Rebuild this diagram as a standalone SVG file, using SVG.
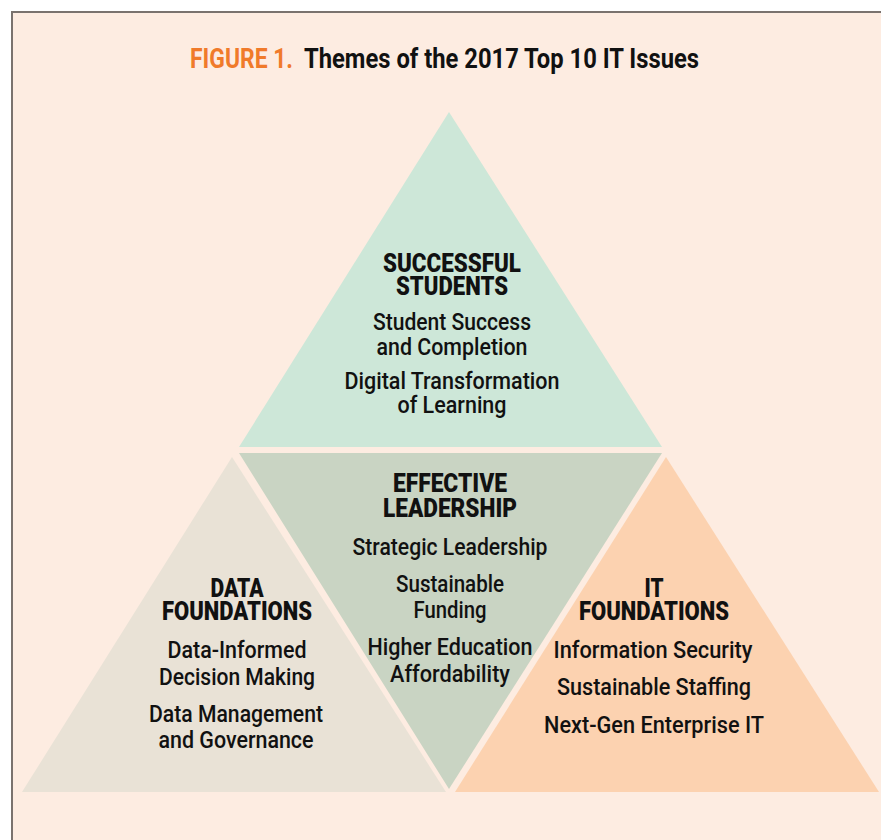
<svg xmlns="http://www.w3.org/2000/svg" width="881" height="840" viewBox="0 0 881 840">
<style>
text{font-family:Roboto,"Liberation Sans",sans-serif;text-anchor:middle;fill:#111}
.h{font-weight:900;font-size:25px}
.b{font-size:24px;font-weight:500}
.t{font-weight:bold;font-size:28px;text-anchor:start}
</style>
<rect x="0" y="0" width="881" height="840" fill="#ffffff"/>
<rect x="12" y="12" width="880" height="840" fill="#fdece1" stroke="#7a726e" stroke-width="2"/>
<text class="t" x="190" y="68" style="fill:#f07a2a" textLength="103" lengthAdjust="spacingAndGlyphs">FIGURE 1.</text>
<text class="t" x="304" y="68" textLength="395" lengthAdjust="spacingAndGlyphs">Themes of the 2017 Top 10 IT Issues</text>
<g id="successful-students">
<polygon points="449,112 662,447 239,447" fill="#cde7d8"/>
<text class="h" x="452" y="272" textLength="138" lengthAdjust="spacingAndGlyphs">SUCCESSFUL</text>
<text class="h" x="452" y="295" textLength="112" lengthAdjust="spacingAndGlyphs">STUDENTS</text>
<text class="b" x="452" y="330" textLength="158" lengthAdjust="spacingAndGlyphs">Student Success</text>
<text class="b" x="452" y="355" textLength="151" lengthAdjust="spacingAndGlyphs">and Completion</text>
<text class="b" x="452" y="389" textLength="215" lengthAdjust="spacingAndGlyphs">Digital Transformation</text>
<text class="b" x="452" y="413" textLength="109" lengthAdjust="spacingAndGlyphs">of Learning</text>
</g>
<g id="effective-leadership">
<polygon points="239,453 662,453 449,789" fill="#c9d4c3"/>
<text class="h" x="450" y="492" textLength="114" lengthAdjust="spacingAndGlyphs">EFFECTIVE</text>
<text class="h" x="450" y="517" textLength="134" lengthAdjust="spacingAndGlyphs">LEADERSHIP</text>
<text class="b" x="450" y="555" textLength="195" lengthAdjust="spacingAndGlyphs">Strategic Leadership</text>
<text class="b" x="450" y="592" textLength="108" lengthAdjust="spacingAndGlyphs">Sustainable</text>
<text class="b" x="450" y="618" textLength="73" lengthAdjust="spacingAndGlyphs">Funding</text>
<text class="b" x="450" y="655" textLength="165" lengthAdjust="spacingAndGlyphs">Higher Education</text>
<text class="b" x="450" y="682" textLength="120" lengthAdjust="spacingAndGlyphs">Affordability</text>
</g>
<g id="data-foundations">
<polygon points="232,457 446,792 22,792" fill="#e9e2d6"/>
<text class="h" x="237" y="597" textLength="53" lengthAdjust="spacingAndGlyphs">DATA</text>
<text class="h" x="237" y="620" textLength="150" lengthAdjust="spacingAndGlyphs">FOUNDATIONS</text>
<text class="b" x="237" y="658" textLength="139" lengthAdjust="spacingAndGlyphs">Data-Informed</text>
<text class="b" x="237" y="685" textLength="156" lengthAdjust="spacingAndGlyphs">Decision Making</text>
<text class="b" x="236" y="722" textLength="174" lengthAdjust="spacingAndGlyphs">Data Management</text>
<text class="b" x="236" y="748" textLength="155" lengthAdjust="spacingAndGlyphs">and Governance</text>
</g>
<g id="it-foundations">
<polygon points="666,457 879,792 455,792" fill="#fcd2b0"/>
<text class="h" x="654" y="597" textLength="19" lengthAdjust="spacingAndGlyphs">IT</text>
<text class="h" x="654" y="620" textLength="150" lengthAdjust="spacingAndGlyphs">FOUNDATIONS</text>
<text class="b" x="653" y="658" textLength="199" lengthAdjust="spacingAndGlyphs">Information Security</text>
<text class="b" x="654" y="695" textLength="194" lengthAdjust="spacingAndGlyphs">Sustainable Staffing</text>
<text class="b" x="654" y="733" textLength="220" lengthAdjust="spacingAndGlyphs">Next-Gen Enterprise IT</text>
</g>
<g id="connectors"></g>
</svg>
